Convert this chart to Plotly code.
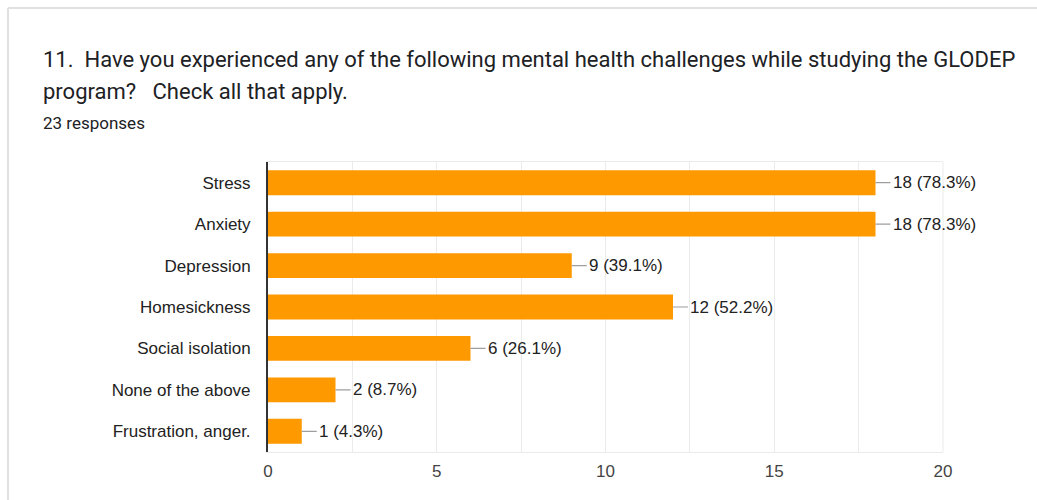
import plotly.graph_objects as go

# Survey question 11: mental health challenges (multiple answers allowed)
categories = [
    "Stress",
    "Anxiety",
    "Depression",
    "Homesickness",
    "Social isolation",
    "None of the above",
    "Frustration, anger.",
]
counts = [18, 18, 9, 12, 6, 2, 1]
total_responses = 23
x_ticks = [0, 5, 10, 15, 20]

title_line1 = "11.  Have you experienced any of the following mental health challenges while studying the GLODEP"
title_line2 = "program?   Check all that apply."
subtitle = f"{total_responses} responses"

W, H = 1037, 500
M_L, M_R, M_T, M_B = 268, 94, 162, 48
PW, PH = W - M_L - M_R, H - M_T - M_B


def px(x):
    return (x - M_L) / PW


def py(y):
    return 1 - (y - M_T) / PH


labels = [f"{c} ({c / total_responses * 100:.1f}%)" for c in counts]

fig = go.Figure(
    go.Bar(
        x=counts,
        y=categories,
        orientation="h",
        marker=dict(color="#ff9900", line=dict(width=0)),
        hoverinfo="skip",
    )
)

# value labels with a short grey leader line from the bar end
for cat, val, lab in zip(categories, counts, labels):
    fig.add_annotation(
        x=val, y=cat, xref="x", yref="y",
        text=lab, showarrow=True, arrowhead=0, arrowwidth=1.2,
        arrowcolor="#9e9e9e", ax=15, ay=0, axref="pixel", ayref="pixel",
        xanchor="left", yanchor="middle", standoff=0, startstandoff=0,
        font=dict(family="Liberation Sans, Arial", size=17, color="#222222"),
    )

# heading text
fig.add_annotation(
    x=px(41), y=py(59), xref="paper", yref="paper", text=title_line1,
    showarrow=False, xanchor="left", yanchor="middle",
    font=dict(family="Roboto", size=22, color="#202124"),
)
fig.add_annotation(
    x=px(41), y=py(92), xref="paper", yref="paper", text=title_line2,
    showarrow=False, xanchor="left", yanchor="middle",
    font=dict(family="Roboto", size=22, color="#202124"),
)
fig.add_annotation(
    x=px(41), y=py(123), xref="paper", yref="paper", text=subtitle,
    showarrow=False, xanchor="left", yanchor="middle",
    font=dict(family="Roboto", size=17, color="#202124"),
)

# card outline and right edge of the plot frame
fig.add_shape(type="line", xref="paper", yref="paper",
              x0=px(8), x1=px(W + 5), y0=py(8), y1=py(8),
              line=dict(color="#e0e0e0", width=2))
fig.add_shape(type="line", xref="paper", yref="paper",
              x0=px(8), x1=px(8), y0=py(8), y1=py(H + 5),
              line=dict(color="#e0e0e0", width=2))
fig.add_shape(type="line", xref="paper", yref="paper",
              x0=1, x1=1, y0=0, y1=1,
              line=dict(color="#ebebeb", width=1))

fig.update_layout(
    width=W, height=H,
    margin=dict(l=M_L, r=M_R, t=M_T, b=M_B),
    paper_bgcolor="white", plot_bgcolor="white",
    showlegend=False, bargap=0.4,
    xaxis=dict(
        range=[0, 20], tickvals=x_ticks, ticktext=[str(t) for t in x_ticks],
        showgrid=True, gridcolor="#ebebeb", gridwidth=1,
        minor=dict(dtick=2.5, showgrid=True, gridcolor="#ebebeb", gridwidth=1),
        zeroline=False, showline=True, linecolor="#ebebeb", linewidth=1,
        mirror=True, ticks="", ticklabelstandoff=4,
        tickfont=dict(family="Liberation Sans, Arial", size=17, color="#444444"),
        fixedrange=True,
    ),
    yaxis=dict(
        categoryorder="array", categoryarray=categories, autorange="reversed",
        showgrid=False, zeroline=False, showline=True, linecolor="#333333",
        linewidth=2, ticks="", ticklabelstandoff=12,
        tickfont=dict(family="Liberation Sans, Arial", size=17, color="#222222"),
        fixedrange=True,
    ),
)

fig.write_html("out.html", config={"displayModeBar": False})
